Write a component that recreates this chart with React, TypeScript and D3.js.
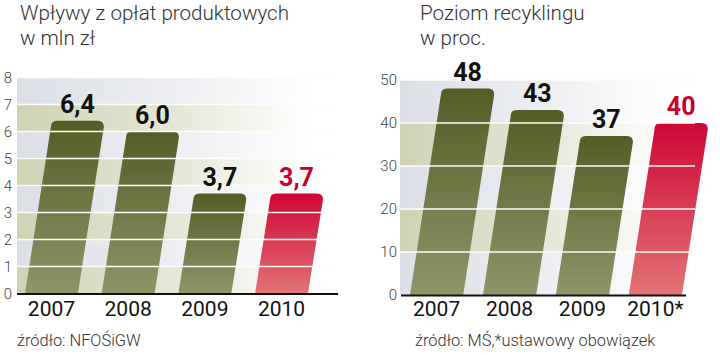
import React from "react";
import * as d3 from "d3";

const leftYears = ["2007", "2008", "2009", "2010"];
const leftValues = [6.4, 6.0, 3.7, 3.7];
const leftLabels = ["6,4", "6,0", "3,7", "3,7"];
const leftTicks = [0, 1, 2, 3, 4, 5, 6, 7, 8];

const rightYears = ["2007", "2008", "2009", "2010*"];
const rightValues = [48, 43, 37, 40];
const rightLabels = ["48", "43", "37", "40"];
const rightTicks = [0, 10, 20, 30, 40, 50];

const leftTitle = ["Wpływy z opłat produktowych", "w mln zł"];
const rightTitle = ["Poziom recyklingu", "w proc."];
const leftSource = "źródło: NFOŚiGW";
const rightSource = "źródło: MŚ,*ustawowy obowiązek";

const SLANT = 0.15;
const R = 6;

function barPath(x0: number, w: number, yb: number, yt: number) {
  const s = SLANT * (yb - yt);
  const tl = x0 + s;
  const tr = x0 + w + s;
  const p = d3.path();
  p.moveTo(x0, yb);
  p.lineTo(tl, yt + R);
  p.quadraticCurveTo(tl, yt, tl + R, yt);
  p.lineTo(tr - R, yt);
  p.quadraticCurveTo(tr, yt, tr, yt + R);
  p.lineTo(x0 + w, yb);
  p.closePath();
  return p.toString();
}

type PanelProps = {
  id: string;
  years: string[];
  values: number[];
  labels: string[];
  ticks: number[];
  title: string[];
  source: string;
  yRange: [number, number];
  xRange: [number, number];
  padInner: number;
  plotX: [number, number];
  baseX: [number, number];
  tickX: number;
  titleX: number;
  sourceX: number;
};

function Panel(p: PanelProps) {
  const y = d3.scaleLinear().domain([p.ticks[0], p.ticks[p.ticks.length - 1]]).range(p.yRange);
  const x = d3.scaleBand().domain(p.years).range(p.xRange).paddingInner(p.padInner).paddingOuter(0);
  const w = x.bandwidth();
  const n = p.ticks.length;
  const bands = p.ticks.slice(0, n - 1).map((t, i) => ({ lo: t, hi: p.ticks[i + 1], idxTop: n - 2 - i }));
  const font = "Roboto, 'Liberation Sans', Arial, sans-serif";
  return (
    <g>
      <defs>
        <linearGradient id={p.id + "gray"} x1="0" x2="1" y1="0" y2="0">
          <stop offset="0" stopColor="#dcdfe6" />
          <stop offset="0.5" stopColor="#eceef1" />
          <stop offset="0.92" stopColor="#ffffff" />
        </linearGradient>
        <linearGradient id={p.id + "beige"} x1="0" x2="1" y1="0" y2="0">
          <stop offset="0" stopColor="#d0d2b4" />
          <stop offset="0.5" stopColor="#e6e7d8" />
          <stop offset="0.92" stopColor="#ffffff" />
        </linearGradient>
        <linearGradient id={p.id + "olive"} x1="0" x2="0" y1="0" y2="1">
          <stop offset="0" stopColor="#535d25" />
          <stop offset="1" stopColor="#8e9669" />
        </linearGradient>
        <linearGradient id={p.id + "red"} x1="0" x2="0" y1="0" y2="1">
          <stop offset="0" stopColor="#cf0636" />
          <stop offset="1" stopColor="#e27474" />
        </linearGradient>
      </defs>
      {p.title.map((t, i) => (
        <text key={i} x={p.titleX} y={20 + i * 25} fontFamily={font} fontWeight={300} fontSize={20.6} fill="#333">
          {t}
        </text>
      ))}
      {bands.map((b, i) => (
        <rect
          key={i}
          x={p.plotX[0]}
          width={p.plotX[1] - p.plotX[0]}
          y={y(b.hi)}
          height={y(b.lo) - y(b.hi)}
          fill={`url(#${p.id}${b.idxTop % 2 === 0 ? "gray" : "beige"})`}
        />
      ))}
      {p.values.map((v, i) => {
        const x0 = x(p.years[i]) as number;
        const isLast = i === p.values.length - 1;
        return (
          <path
            key={i}
            d={barPath(x0, w, y(0), y(v))}
            fill={`url(#${p.id}${isLast ? "red" : "olive"})`}
          />
        );
      })}
      {p.ticks.slice(1).map((t) => (
        <line key={t} x1={p.plotX[0]} x2={p.plotX[1]} y1={y(t)} y2={y(t)} stroke="#fdfdf8" strokeWidth={1.6} />
      ))}
      <line x1={p.baseX[0]} x2={p.baseX[1]} y1={y(0) + 0.5} y2={y(0) + 0.5} stroke="#111" strokeWidth={2} />
      {p.ticks.map((t) => (
        <text key={t} x={p.tickX} y={y(t) + 5} textAnchor="end" fontFamily={font} fontWeight={300} fontSize={15} fill="#444">
          {t}
        </text>
      ))}
      {p.values.map((v, i) => {
        const x0 = x(p.years[i]) as number;
        const s = SLANT * (y(0) - y(v));
        const isLast = i === p.values.length - 1;
        return (
          <text
            key={i}
            x={x0 + s + w / 2}
            y={y(v) - 8}
            textAnchor="middle"
            fontFamily={font}
            fontWeight={700}
            fontSize={25}
            fill={isLast ? "#c8002e" : "#111"}
          >
            {p.labels[i]}
          </text>
        );
      })}
      {p.years.map((yr) => (
        <text
          key={yr}
          x={(x(yr) as number) + w / 2}
          y={316}
          textAnchor="middle"
          fontFamily={font}
          fontSize={21}
          fill="#111"
        >
          {yr}
        </text>
      ))}
      <text x={p.sourceX} y={346} fontFamily={font} fontWeight={300} fontSize={16.4} fill="#333">
        {p.source}
      </text>
    </g>
  );
}

export default function App() {
  return (
    <div style={{ position: "fixed", left: 0, top: 0 }}>
      <svg width={720} height={355} style={{ display: "block", background: "#fff" }}>
        <Panel
          id="L"
          years={leftYears}
          values={leftValues}
          labels={leftLabels}
          ticks={leftTicks}
          title={leftTitle}
          source={leftSource}
          yRange={[293.5, 77.5]}
          xRange={[25, 308]}
          padInner={0.31}
          plotX={[17, 338]}
          baseX={[17, 338]}
          tickX={12}
          titleX={20}
          sourceX={17}
        />
        <Panel
          id="R"
          years={rightYears}
          values={rightValues}
          labels={rightLabels}
          ticks={rightTicks}
          title={rightTitle}
          source={rightSource}
          yRange={[295, 80]}
          xRange={[410, 682]}
          padInner={0.27}
          plotX={[400, 695]}
          baseX={[401, 686]}
          tickX={397}
          titleX={420}
          sourceX={415}
        />
      </svg>
    </div>
  );
}
